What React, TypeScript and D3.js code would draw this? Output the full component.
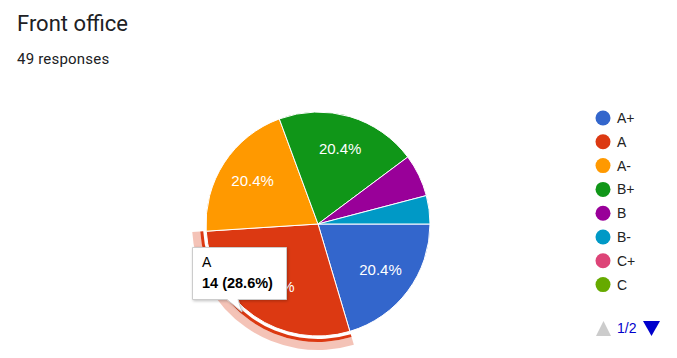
import React from "react";
import * as d3 from "d3";

const title = "Front office";
const subtitle = "49 responses";
const categories = ["A+", "A", "A-", "B+", "B", "B-", "C+", "C"];
const values = [10, 14, 10, 10, 3, 2, 0, 0];
const colors = ["#3366cc", "#dc3912", "#ff9900", "#109618", "#990099", "#0099c6", "#dd4477", "#66aa00"];
const hoveredIndex = 1;
const pageLabel = "1/2";

const W = 677;
const H = 358;
const cx = 318;
const cy = 224;
const R = 112;

export default function App() {
  const total = d3.sum(values);
  const pie = d3
    .pie<number>()
    .sort(null)
    .startAngle(Math.PI / 2)
    .endAngle(Math.PI / 2 + Math.PI * 2);
  const arcs = pie(values);
  const arc = d3.arc<d3.PieArcDatum<number>>().innerRadius(0).outerRadius(R);
  const labelArc = d3.arc<d3.PieArcDatum<number>>().innerRadius(78 * 2 - R).outerRadius(R);
  const ringLine = d3.arc<d3.PieArcDatum<number>>().innerRadius(R + 3).outerRadius(R + 6);
  const ringHalo = d3.arc<d3.PieArcDatum<number>>().innerRadius(R + 6).outerRadius(R + 14);
  const fmt = (v: number) => ((v / total) * 100).toFixed(1) + "%";
  const legendY = d3.scaleLinear().domain([0, 1]).range([118, 141.8]);
  const h = arcs[hoveredIndex];

  return (
    <svg width={W} height={H} style={{ position: "absolute", left: 0, top: 0 }}>
      <defs>
        <filter id="sh" x="-20%" y="-20%" width="140%" height="150%">
          <feDropShadow dx="1" dy="1" stdDeviation="1.5" floodColor="#000" floodOpacity="0.25" />
        </filter>
      </defs>
      <rect width={W} height={H} fill="#fff" />
      <text x={17} y={31} fontFamily="Roboto" fontSize={22} fill="#202124">
        {title}
      </text>
      <text x={17} y={64} fontFamily="Roboto" fontSize={15} fill="#202124" letterSpacing={0.2}>
        {subtitle}
      </text>
      <g transform={`translate(${cx},${cy})`}>
        {arcs.map((a, i) =>
          a.value > 0 ? (
            <path key={i} d={arc(a) || ""} fill={colors[i]} stroke="#fff" strokeWidth={1} />
          ) : null
        )}
        <path d={ringHalo(h) || ""} fill={colors[hoveredIndex]} fillOpacity={0.3} />
        <path d={ringLine(h) || ""} fill={colors[hoveredIndex]} />
        {arcs.map((a, i) => {
          if (a.value / total < 0.1) return null;
          const [x, y] = labelArc.centroid(a);
          return (
            <text
              key={"l" + i}
              x={x}
              y={y}
              dy="0.3em"
              textAnchor="middle"
              fontFamily="Liberation Sans, Arial"
              fontSize={15}
              fill="#fff"
            >
              {fmt(a.value)}
            </text>
          );
        })}
      </g>
      {categories.map((c, i) => (
        <g key={c} transform={`translate(603,${legendY(i)})`}>
          <circle r={7.5} fill={colors[i]} />
          <text x={14} dy="0.35em" fontFamily="Liberation Sans, Arial" fontSize={14} fill="#222">
            {c}
          </text>
        </g>
      ))}
      <g fontFamily="Liberation Sans, Arial" fontSize={14}>
        <path d="M596,336 L611,336 L603.5,321 Z" fill="#ccc" />
        <text x={617} y={333} fill="#0000cc">
          {pageLabel}
        </text>
        <path d="M643,321 L660,321 L651.5,336 Z" fill="#0000cc" />
      </g>
      <g filter="url(#sh)">
        <path
          d="M192.5,247.5 L286.5,247.5 L286.5,299.5 L238,299.5 L242,312 L227,299.5 L192.5,299.5 Z"
          fill="#fff"
          stroke="#ccc"
          strokeWidth={1}
        />
      </g>
      <text x={202} y={267} fontFamily="Liberation Sans, Arial" fontSize={14} fill="#000">
        {categories[hoveredIndex]}
      </text>
      <text x={202} y={288} fontFamily="Liberation Sans, Arial" fontSize={14.5} fontWeight="bold" fill="#000">
        {`${values[hoveredIndex]} (${fmt(values[hoveredIndex])})`}
      </text>
    </svg>
  );
}
